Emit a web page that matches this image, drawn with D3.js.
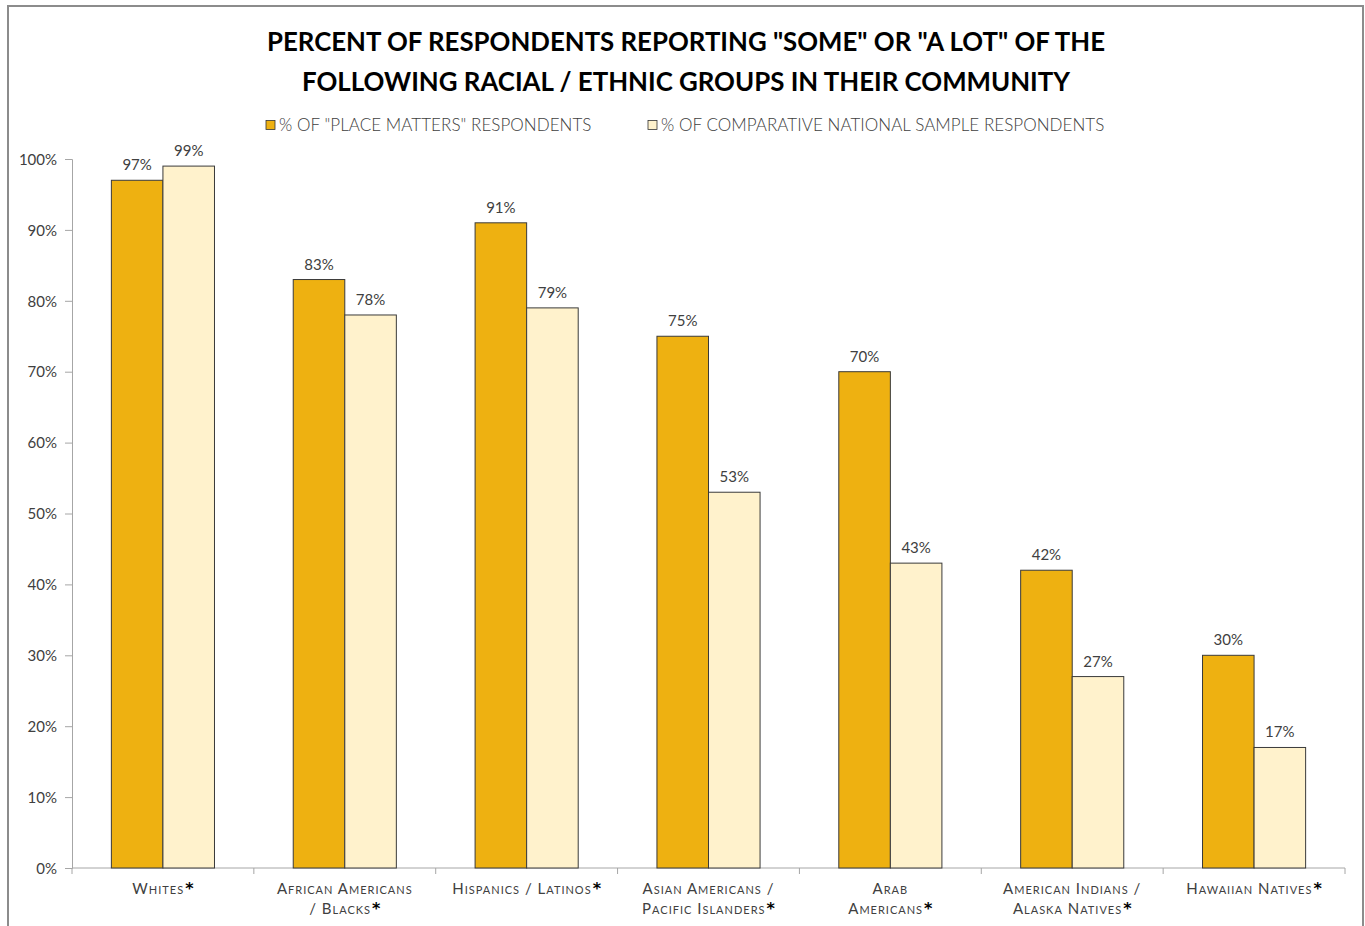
<!DOCTYPE html>
<html>
<head>
<meta charset="utf-8">
<script src="https://cdn.jsdelivr.net/npm/d3@7/dist/d3.min.js"></script>
<style>
  html, body { margin: 0; padding: 0; background: #fff; }
  svg { display: block; }
  text { font-family: "Lato", "DejaVu Sans", sans-serif; fill: #404040; }
</style>
</head>
<body>
<div id="chart"></div>
<script>
// Categories (two-line labels are split with "\n")
const categories = [
  "Whites",
  "African Americans\n/ Blacks",
  "Hispanics / Latinos",
  "Asian Americans /\nPacific Islanders",
  "Arab\nAmericans",
  "American Indians /\nAlaska Natives",
  "Hawaiian Natives"
];
const seriesNames = [
  '% of "Place Matters" respondents',
  '% of comparative national sample respondents'
];
const placeMatters = [97, 83, 91, 75, 70, 42, 30];
const nationalSample = [99, 78, 79, 53, 43, 27, 17];
const yTicks = [0, 10, 20, 30, 40, 50, 60, 70, 80, 90, 100];
const titleLines = [
  'PERCENT OF RESPONDENTS REPORTING "SOME" OR "A LOT" OF THE',
  'FOLLOWING RACIAL / ETHNIC GROUPS IN THEIR COMMUNITY'
];

const W = 1365, H = 926;
const colors = ["#EEB111", "#FFF2CC"];

const svg = d3.select("#chart").append("svg")
  .attr("width", W).attr("height", H);

// outer frame
svg.append("path")
  .attr("d", `M8,${H} L8,6 L1363,6 L1363,${H}`)
  .attr("fill", "none").attr("stroke", "#8c8c8c").attr("stroke-width", 2);

const plot = { left: 72, right: 1345, top: 159, bottom: 868 };

const y = d3.scaleLinear().domain([0, 100]).range([plot.bottom, plot.top]);
const x0 = d3.scaleBand().domain(categories).range([plot.left, plot.right]).padding(0);
const groupW = x0.bandwidth() * 0.567;
const x1 = d3.scaleBand().domain([0, 1]).range([0, groupW]).padding(0);

// title
svg.append("g").selectAll("text").data(titleLines).join("text")
  .attr("x", 686).attr("y", (d, i) => 51 + i * 40)
  .attr("text-anchor", "middle")
  .attr("textLength", (d, i) => i === 0 ? 838 : 768)
  .attr("lengthAdjust", "spacingAndGlyphs")
  .style("font-size", "26px").style("font-weight", "bold")
  .style("fill", "#000")
  .text(d => d);

// legend
const legendX = [266, 648];
const lg = svg.append("g").selectAll("g").data(seriesNames).join("g")
  .attr("transform", (d, i) => `translate(${legendX[i]},120)`);
lg.append("rect").attr("width", 9).attr("height", 9).attr("y", 0.5)
  .attr("fill", (d, i) => colors[i]).attr("stroke", "#333").attr("stroke-width", 0.8);
lg.append("text").attr("x", 13).attr("y", 10.5)
  .style("font-size", "17px").style("font-weight", "300")
  .style("letter-spacing", "0.05px")
  .style("text-transform", "uppercase")
  .text(d => d);

// y axis
const yAxis = d3.axisLeft(y).tickValues(yTicks).tickFormat(d => d + "%").tickSize(7).tickPadding(8);
const gy = svg.append("g").attr("transform", `translate(${plot.left},0)`).call(yAxis);
gy.select(".domain").attr("stroke", "#a6a6a6");
gy.selectAll(".tick line").attr("stroke", "#a6a6a6");
gy.selectAll(".tick text").style("font-size", "15px").style("font-family", "Lato, sans-serif")
  .attr("fill", "#404040").attr("dy", "0.35em");

// x axis line and boundary ticks
svg.append("line")
  .attr("x1", plot.left).attr("x2", plot.right)
  .attr("y1", plot.bottom).attr("y2", plot.bottom)
  .attr("stroke", "#a6a6a6");
const bounds = categories.map(c => x0(c)).concat([x0(categories[categories.length - 1]) + x0.bandwidth()]);
svg.append("g").selectAll("line").data(bounds).join("line")
  .attr("x1", d => d).attr("x2", d => d)
  .attr("y1", plot.bottom).attr("y2", plot.bottom + 6)
  .attr("stroke", "#a6a6a6");

// bars
const rows = categories.map((c, i) => ({ cat: c, vals: [placeMatters[i], nationalSample[i]] }));
const groups = svg.append("g").selectAll("g").data(rows).join("g")
  .attr("transform", d => `translate(${x0(d.cat) + (x0.bandwidth() - groupW) / 2},0)`);
groups.selectAll("rect").data(d => d.vals).join("rect")
  .attr("x", (d, i) => x1(i))
  .attr("y", d => y(d))
  .attr("width", x1.bandwidth())
  .attr("height", d => y(0) - y(d))
  .attr("fill", (d, i) => colors[i])
  .attr("stroke", "#3a3a3a").attr("stroke-width", 1);
groups.selectAll("text").data(d => d.vals).join("text")
  .attr("x", (d, i) => x1(i) + x1.bandwidth() / 2)
  .attr("y", d => y(d) - 10)
  .attr("text-anchor", "middle")
  .style("font-size", "15px")
  .text(d => d + "%");

// category labels (small caps, with asterisk on the last line)
const labelGroups = svg.append("g").selectAll("g").data(categories).join("g");
labelGroups.each(function (d) {
  const lines = d.split("\n");
  const cx = x0(d) + x0.bandwidth() / 2;
  lines.forEach((ln, i) => {
    const t = d3.select(this).append("text")
      .attr("x", cx)
      .attr("y", 894 + i * 20)
      .attr("text-anchor", "middle")
      .style("font-size", "15px")
      .style("letter-spacing", "1px")
      .style("font-variant", "small-caps");
    t.append("tspan").text(ln);
    if (i === lines.length - 1) {
      t.append("tspan").attr("dx", 1)
        .style("font-family", "'DejaVu Sans', sans-serif")
        .style("font-size", "16px").style("font-weight", "bold")
        .style("letter-spacing", "0px")
        .style("fill", "#000").text("*");
    }
  });
});
</script>
</body>
</html>
